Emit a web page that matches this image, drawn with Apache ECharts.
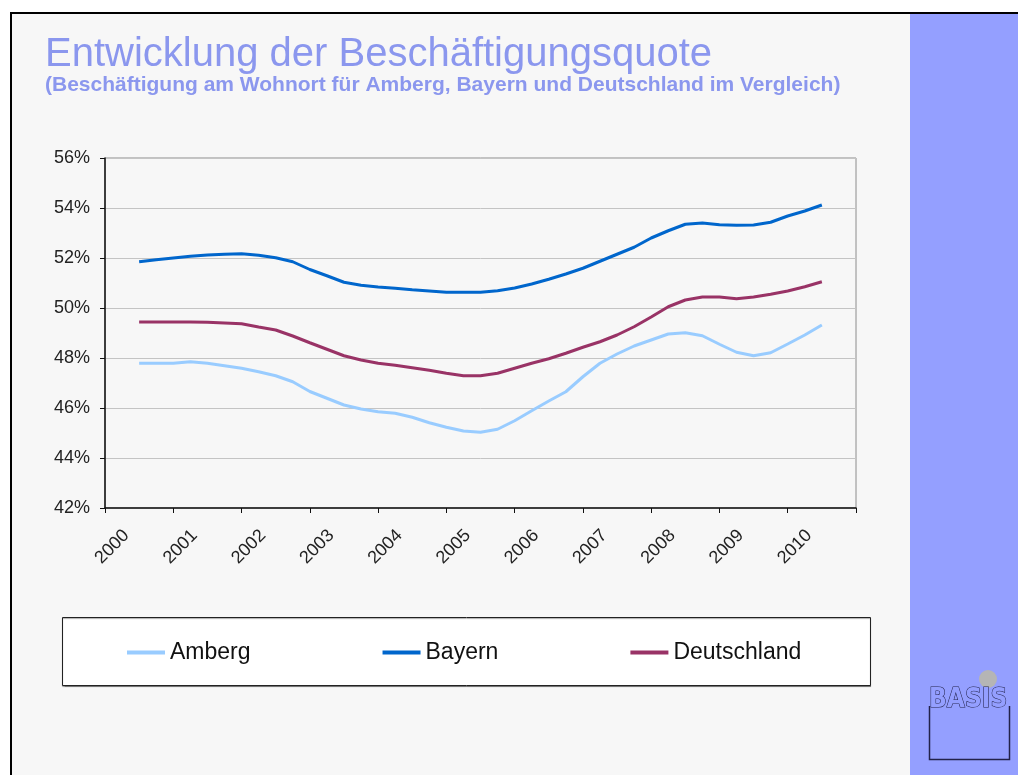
<!DOCTYPE html>
<html>
<head>
<meta charset="utf-8">
<script src="https://cdn.jsdelivr.net/npm/echarts@6/dist/echarts.min.js"></script>
<style>
  html, body { margin: 0; padding: 0; background: #ffffff; }
  #chart { width: 1018px; height: 775px; }
</style>
</head>
<body>
<div id="chart"></div>
<script>
// Jahre (Kategorien der x-Achse)
const years = ['2000', '2001', '2002', '2003', '2004', '2005', '2006', '2007', '2008', '2009', '2010'];

// Beschäftigungsquote in %, quartalsweise von Mitte 2000 bis Mitte 2010
const amberg = [
  47.79, 47.79, 47.79, 47.85, 47.79, 47.69, 47.59, 47.45, 47.29, 47.05,
  46.66, 46.39, 46.12, 45.96, 45.85, 45.79, 45.63, 45.41, 45.23, 45.08,
  45.03, 45.15, 45.49, 45.89, 46.28, 46.65, 47.25, 47.79, 48.16, 48.48,
  48.72, 48.96, 49.01, 48.89, 48.55, 48.23, 48.09, 48.21, 48.56, 48.92,
  49.32
];
const bayern = [
  51.85, 51.93, 52.00, 52.07, 52.12, 52.15, 52.17, 52.11, 52.01, 51.85,
  51.54, 51.29, 51.03, 50.91, 50.84, 50.79, 50.73, 50.68, 50.63, 50.63,
  50.63, 50.69, 50.80, 50.96, 51.15, 51.36, 51.59, 51.87, 52.15, 52.43,
  52.80, 53.09, 53.35, 53.40, 53.33, 53.31, 53.32, 53.43, 53.68, 53.88,
  54.12
];
const deutschland = [
  49.44, 49.44, 49.44, 49.44, 49.43, 49.40, 49.37, 49.24, 49.12, 48.88,
  48.61, 48.35, 48.09, 47.92, 47.79, 47.71, 47.61, 47.51, 47.39, 47.29,
  47.29, 47.39, 47.59, 47.79, 47.97, 48.19, 48.43, 48.65, 48.92, 49.25,
  49.64, 50.05, 50.32, 50.44, 50.44, 50.37, 50.44, 50.55, 50.68, 50.85,
  51.05
];

// Zeitpunkte (Jahr als Dezimalzahl) der Quartalswerte
const quarterTimes = amberg.map((_, i) => 2000.5 + i * 0.25);

const chart = echarts.init(document.getElementById('chart'));

const toPoints = arr => arr.map((v, i) => [quarterTimes[i], v]);

const option = {
  backgroundColor: '#f7f7f7',
  animation: false,
  title: {
    text: 'Entwicklung der Beschäftigungsquote',
    subtext: '(Beschäftigung am Wohnort für Amberg, Bayern und Deutschland im Vergleich)',
    left: 45,
    top: 35,
    padding: 0,
    itemGap: 0,
    textStyle: {
      fontFamily: 'Liberation Sans',
      fontSize: 40,
      fontWeight: 'normal',
      color: '#8b97ee'
    },
    subtextStyle: {
      fontFamily: 'Liberation Sans',
      fontSize: 21,
      fontWeight: 'bold',
      color: '#8b97ee'
    }
  },
  graphic: [
    // weisser Rand oben und links
    { type: 'rect', shape: { x: 0, y: 0, width: 1018, height: 12 }, style: { fill: '#ffffff' }, z: -10 },
    { type: 'rect', shape: { x: 0, y: 0, width: 10, height: 775 }, style: { fill: '#ffffff' }, z: -10 },
    // schwarzer Rahmen
    { type: 'rect', shape: { x: 10, y: 12, width: 1008, height: 2 }, style: { fill: '#000000' }, z: -9 },
    { type: 'rect', shape: { x: 10, y: 12, width: 2, height: 763 }, style: { fill: '#000000' }, z: -9 },
    // Seitenleiste rechts
    { type: 'rect', shape: { x: 910, y: 14, width: 108, height: 761 }, style: { fill: '#949fff' }, z: -9 },
    // Legendenkasten
    {
      type: 'rect',
      shape: { x: 62.5, y: 617.5, width: 808, height: 68 },
      style: { fill: '#ffffff', stroke: '#222222', lineWidth: 1, shadowColor: 'rgba(0,0,0,0.35)', shadowOffsetY: 1, shadowBlur: 1 },
      z: -5
    },
    // BASIS Logo
    { type: 'circle', shape: { cx: 988, cy: 679, r: 9 }, style: { fill: '#b5b5b5' } },
    {
      type: 'polyline',
      shape: { points: [[929.5, 706], [929.5, 759.5], [1009.5, 759.5], [1009.5, 706]] },
      style: { stroke: '#22224a', lineWidth: 1.5, fill: null }
    },
    {
      type: 'text',
      x: 929,
      y: 687,
      style: {
        text: 'BASIS',
        font: 'bold 26px "DejaVu Sans Condensed"',
        fill: '#949fff',
        stroke: '#22224a',
        lineWidth: 1
      }
    }
  ],
  legend: {
    data: ['Amberg', 'Bayern', 'Deutschland'],
    left: 127,
    top: 641,
    padding: 0,
    icon: 'rect',
    itemWidth: 38,
    itemHeight: 4,
    itemGap: 132,
    textStyle: {
      fontFamily: 'Liberation Sans',
      fontSize: 23,
      color: '#111111'
    }
  },
  grid: {
    left: 105,
    right: 162,
    top: 158,
    bottom: 267,
    containLabel: false,
    show: true,
    borderColor: '#8c8c8c',
    borderWidth: 1,
    backgroundColor: 'transparent'
  },
  xAxis: [
    {
      type: 'category',
      data: years,
      boundaryGap: true,
      axisLine: { lineStyle: { color: '#111111', width: 1.5 } },
      axisTick: { show: true, length: 5, lineStyle: { color: '#111111' } },
      axisLabel: {
        rotate: 45,
        margin: 12,
        padding: [0, 18, 0, 0],
        fontFamily: 'Liberation Sans',
        fontSize: 18,
        color: '#222222'
      },
      splitLine: { show: false }
    },
    {
      type: 'value',
      min: 2000,
      max: 2011,
      show: false
    }
  ],
  yAxis: {
    type: 'value',
    min: 42,
    max: 56,
    interval: 2,
    axisLine: { show: true, lineStyle: { color: '#111111', width: 1.5 } },
    axisTick: { show: true, length: 5, lineStyle: { color: '#111111' } },
    axisLabel: {
      formatter: '{value}%',
      margin: 15,
      fontFamily: 'Liberation Sans',
      fontSize: 18,
      color: '#222222'
    },
    splitLine: { lineStyle: { color: '#c4c4c4', width: 1 } }
  },
  series: [
    {
      name: 'Amberg',
      type: 'line',
      xAxisIndex: 1,
      data: toPoints(amberg),
      symbol: 'none',
      color: '#99ccff',
      lineStyle: { width: 3 }
    },
    {
      name: 'Bayern',
      type: 'line',
      xAxisIndex: 1,
      data: toPoints(bayern),
      symbol: 'none',
      color: '#0066cc',
      lineStyle: { width: 3 }
    },
    {
      name: 'Deutschland',
      type: 'line',
      xAxisIndex: 1,
      data: toPoints(deutschland),
      symbol: 'none',
      color: '#993366',
      lineStyle: { width: 3 }
    }
  ]
};

chart.setOption(option);
</script>
</body>
</html>
